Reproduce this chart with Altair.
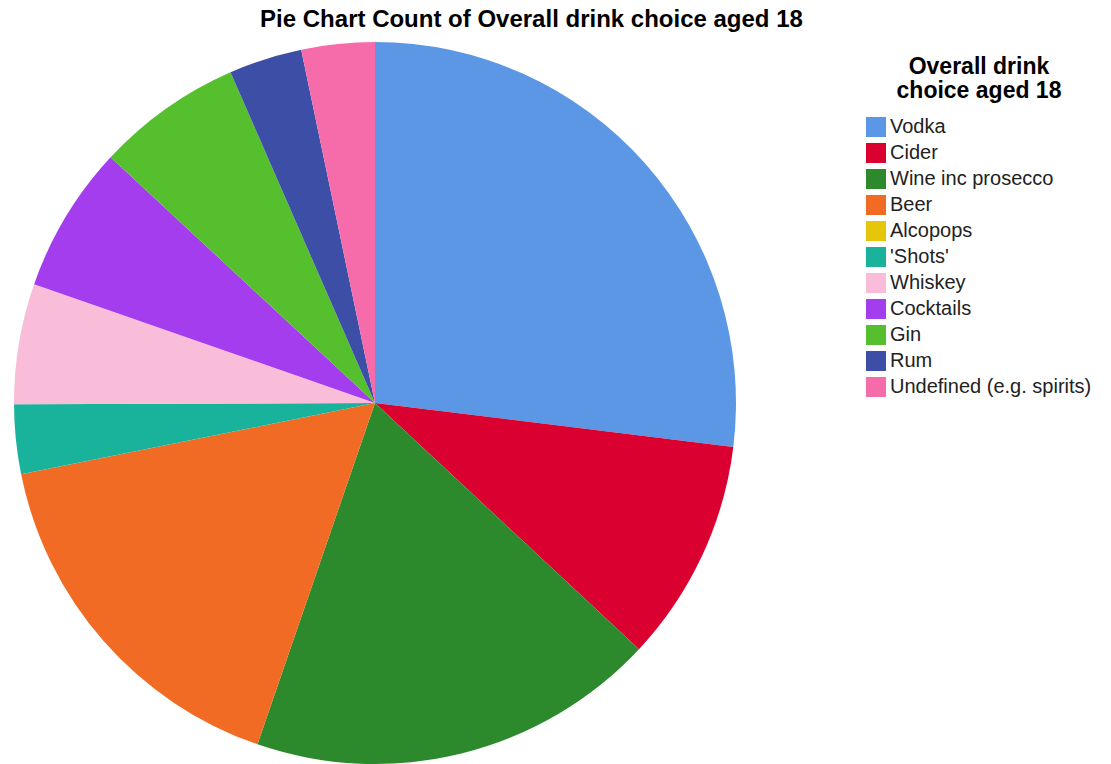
import altair as alt
import pandas as pd

categories = ["Vodka", "Cider", "Wine inc prosecco", "Beer", "Alcopops", "'Shots'",
              "Whiskey", "Cocktails", "Gin", "Rum", "Undefined (e.g. spirits)"]
counts = [97.0, 36.0, 66.0, 59.6, 0.0, 11.2, 19.4, 23.7, 23.5, 11.8, 11.8]
colors = ["#5b97e4", "#da0030", "#2c8a2c", "#f26b24", "#e6c60a", "#19b39b",
          "#f9bcd9", "#a33ded", "#55bf2e", "#3d4ea6", "#f66cab"]

df = pd.DataFrame({"drink": categories, "count": counts, "order": list(range(len(categories)))})

chart = alt.Chart(df).mark_arc(radius=361, strokeWidth=0).encode(
    theta=alt.Theta("count:Q", stack=True),
    order=alt.Order("order:Q"),
    x=alt.value(375),
    y=alt.value(363),
    color=alt.Color(
        "drink:N",
        sort=categories,
        scale=alt.Scale(domain=categories, range=colors),
        legend=alt.Legend(
            title=["Overall drink", "choice aged 18"],
            orient="none",
            legendX=866,
            legendY=16,
            titleFontSize=23,
            titleFont="Liberation Sans",
            titleFontWeight="bold",
            titleAnchor="middle",
            titleAlign="center",
            titleLineHeight=24,
            titlePadding=14,
            titleColor="#000000",
            labelFontSize=20,
            labelFont="Liberation Sans",
            labelColor="#222222",
            labelOffset=4,
            symbolType="square",
            symbolSize=400,
            symbolStrokeWidth=0,
            symbolOpacity=1,
            rowPadding=6,
            labelLimit=400,
        ),
    ),
).properties(
    width=1111,
    height=724,
    autosize=alt.AutoSizeParams(type="none"),
    padding={"left": 0, "top": 40, "right": 0, "bottom": 0},
    title=alt.TitleParams(
        "Pie Chart Count of Overall drink choice aged 18",
        fontSize=24,
        font="Liberation Sans",
        fontWeight="bold",
        anchor="middle",
        dx=-24,
        offset=8,
        color="#000000",
    ),
).configure_view(stroke=None)

chart.save("out.html", embed_options={"renderer": "svg", "actions": False})
